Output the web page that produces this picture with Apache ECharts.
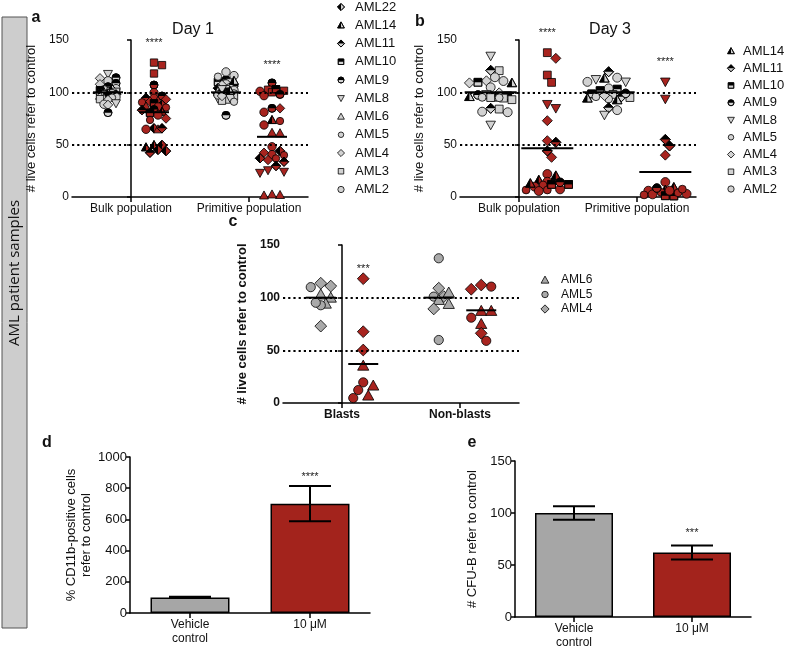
<!DOCTYPE html>
<html><head><meta charset="utf-8">
<script src="https://cdn.jsdelivr.net/npm/echarts@6/dist/echarts.min.js"></script>
<style>html,body{margin:0;padding:0;background:#fff}#c{width:785px;height:650px}</style>
</head><body><div id="c"></div>
<script>
// ================= DATA =================
const popCategories = ['Bulk population', 'Primitive population'];
const cellCategories = ['Blasts', 'Non-blasts'];
const barCategories = ['Vehicle\ncontrol', '10 \u03bcM'];
const legendDay1 = ['AML22','AML14','AML11','AML10','AML9','AML8','AML6','AML5','AML4','AML3','AML2'];
const legendDay3 = ['AML14','AML11','AML10','AML9','AML8','AML5','AML4','AML3','AML2'];
const legendC = ['AML6','AML5','AML4'];
const yTicks150 = [0, 50, 100, 150];
const yTicks1000 = [0, 200, 400, 600, 800, 1000];
const refLevels = [100, 50];

// Day 1 (panel a): [sample, % live cells]
const day1BulkControl = [['AML8',117.5],['AML9',114],['AML4',113.4],['AML2',111],['AML9',108.6],['AML4',107.7],['AML9',105.4],['AML2',103.5],['AML5',103],['AML22',102.5],['AML10',102],['AML6',101],['AML3',100.5],['AML14',100],['AML5',99.5],['AML9',99],['AML22',98.5],['AML11',98],['AML2',97.8],['AML3',97.4],['AML6',96.8],['AML10',96],['AML2',95.5],['AML5',95],['AML6',94.3],['AML3',93.5],['AML4',92.7],['AML8',89.5],['AML2',88.6],['AML4',88],['AML9',80.6]];
const day1BulkTreated = [['AML3',128.4],['AML3',126],['AML3',118],['AML9',107],['AML2',99.7],['AML9',96.5],['AML11',94.5],['AML2',94.3],['AML4',93.3],['AML6',92],['AML4',91],['AML5',90.5],['AML10',89.5],['AML22',88],['AML2',86],['AML6',86.5],['AML5',85.5],['AML9',83.5],['AML11',83],['AML14',81.5],['AML10',80.5],['AML2',78.3],['AML4',75],['AML5',73.6],['AML22',65.6],['AML2',64.7],['AML6',64.7],['AML11',65.6],['AML14',49.7],['AML22',49.7],['AML14',47.5],['AML22',45],['AML11',42.3],['AML22',43.9]];
const day1PrimControl = [['AML9',112],['AML2',119.5],['AML10',110],['AML5',115],['AML3',109.5],['AML2',108],['AML4',107],['AML9',106],['AML5',105],['AML22',104],['AML3',103],['AML2',102],['AML6',101],['AML10',100.5],['AML9',100],['AML5',99],['AML11',98],['AML4',97],['AML3',96],['AML2',95],['AML8',94],['AML6',93],['AML3',92],['AML5',91],['AML2',97.5],['AML14',101.5],['AML8',103],['AML4',96.5],['AML9',78],['AML2',116],['AML14',111]];
const day1PrimTreated = [['AML9',109],['AML3',101.5],['AML3',102.5],['AML3',100],['AML2',101],['AML10',103],['AML2',96.8],['AML9',84.7],['AML4',84.7],['AML2',81],['AML14',73.6],['AML2',68.8],['AML5',72.6],['AML6',61.4],['AML6',61],['AML2',48],['AML22',44],['AML5',40],['AML4',42.3],['AML2',40.5],['AML22',37],['AML4',35.3],['AML5',36.9],['AML11',33.7],['AML11',29.6],['AML8',24],['AML8',23],['AML8',25.5],['AML6',2],['AML6',1.5],['AML6',2.5],['AML9',98]];
const day1Medians = [[100, 81], [100, 57.5]];   // per category: [control, treated]
const day1Stars = [['****', 147], ['****', 126]];

// Day 3 (panel b)
const day3BulkControl = [['AML8',134.7],['AML11',121],['AML3',120.7],['AML2',114.4],['AML4',111],['AML2',110.8],['AML10',109.6],['AML14',109],['AML4',109],['AML2',104.8],['AML4',99.5],['AML9',97.5],['AML8',98],['AML10',96.5],['AML14',95.8],['AML10',95.5],['AML3',95],['AML5',95.2],['AML3',94.5],['AML5',94.8],['AML3',93],['AML11',84.7],['AML3',84],['AML2',81.5],['AML2',81],['AML8',68.8]];
const day3BulkTreated = [['AML3',137.9],['AML4',132.5],['AML3',116.5],['AML3',109.5],['AML8',88.6],['AML8',84.7],['AML4',72.9],['AML4',53.8],['AML11',52.2],['AML11',44],['AML4',37.9],['AML2',22],['AML14',20.4],['AML14',16.2],['AML2',14.6],['AML10',12],['AML5',11.5],['AML2',9.9],['AML5',6.7],['AML2',5.7],['AML5',6.7],['AML2',7.3],['AML10',12],['AML14',13],['AML9',14]];
const day3PrimControl = [['AML11',119.7],['AML8',112.4],['AML2',114],['AML14',113.4],['AML8',110],['AML2',110],['AML10',103],['AML2',103.8],['AML10',101.6],['AML3',98],['AML10',98.5],['AML3',95],['AML11',95.8],['AML5',93.6],['AML14',92.7],['AML14',94.3],['AML5',95.8],['AML9',99],['AML4',97],['AML11',85.3],['AML2',83],['AML8',78.3]];
const day3PrimTreated = [['AML8',110],['AML8',93.6],['AML11',55],['AML11',48.7],['AML4',40],['AML2',14.3],['AML14',9.3],['AML14',6.8],['AML2',6],['AML5',4.5],['AML2',3],['AML5',2],['AML10',1],['AML10',1.2],['AML2',2.5],['AML5',4],['AML2',6],['AML5',7.5],['AML9',8.5]];
const day3Medians = [[100, 46.5], [100, 24]];
const day3Stars = [['****', 157], ['****', 129]];

// Panel c
const blastsControl = [['AML4',111],['AML4',113.7],['AML5',110],['AML6',100],['AML6',103],['AML6',94.3],['AML5',92.8],['AML5',95.2],['AML4',73]];
const blastsTreated = [['AML4',118],['AML4',67.7],['AML4',50.3],['AML6',35.4],['AML5',19.6],['AML5',12.3],['AML6',16.5],['AML5',4.7],['AML6',7]];
const nonBlastsControl = [['AML5',137.4],['AML4',109],['AML5',101],['AML4',101],['AML6',104.8],['AML6',97.8],['AML6',94],['AML4',89.3],['AML5',59.8]];
const nonBlastsTreated = [['AML5',110.5],['AML4',108],['AML4',112],['AML6',87.4],['AML5',81],['AML6',87.4],['AML6',75],['AML4',66.2],['AML5',59]];
const cellMedians = [[100, 37], [100, 88]];
const cellStars = [['***', 127], ['', 0]];

// Panel d, e
const cd11bMeans = [100, 701];
const cd11bSem = [4, 113];
const cd11bStars = [['', 0], ['****', 870]];
const cfuMeans = [100, 62];
const cfuSem = [6.4, 6.8];
const cfuStars = [['', 0], ['***', 80.5]];

// ================= STYLE / HELPERS =================
const FONT = '"Liberation Sans", Arial, Helvetica, sans-serif';
const GRAY_LIGHT = '#d2d2d2', GRAY_MID = '#a9a9a9', RED = '#a8241f';
const BAR_GRAY = '#a6a6a6', BAR_RED = '#a3231c';
const SHAPES = {
  AML22:['diamond','left'], AML14:['tri','left'], AML11:['diamond','top'], AML10:['square','top'],
  AML9:['circle','top'], AML8:['dtri',null], AML6:['tri',null], AML5:['circle',null,0.92],
  AML4:['diamond',null], AML3:['square',null], AML2:['circle',null,1.05]
};
function shapeEls(sample, cx, cy, r, fill, lw) {
  const spec = SHAPES[sample], kind = spec[0], half = spec[1];
  lw = lw || 0.8;
  let base, h = null;
  if (kind === 'circle') {
    const rr = r * (spec[2] || 1);
    base = {type:'circle', shape:{cx, cy, r:rr}};
    if (half) h = {type:'sector', shape:{cx, cy, r0:0, r:rr, startAngle:Math.PI, endAngle:2*Math.PI, clockwise:true}};
  } else if (kind === 'square') {
    const s = r * 0.92;
    base = {type:'rect', shape:{x:cx-s, y:cy-s, width:2*s, height:2*s}};
    if (half) h = {type:'rect', shape:{x:cx-s, y:cy-s, width:2*s, height:s}};
  } else if (kind === 'diamond') {
    const s = r * 1.18;
    base = {type:'polygon', shape:{points:[[cx,cy-s],[cx+s,cy],[cx,cy+s],[cx-s,cy]]}};
    if (half === 'top') h = {type:'polygon', shape:{points:[[cx,cy-s],[cx+s,cy],[cx-s,cy]]}};
    if (half === 'left') h = {type:'polygon', shape:{points:[[cx,cy-s],[cx,cy+s],[cx-s,cy]]}};
  } else if (kind === 'tri') {
    const s = r * 1.12;
    base = {type:'polygon', shape:{points:[[cx,cy-s],[cx+s,cy+s*0.8],[cx-s,cy+s*0.8]]}};
    if (half) h = {type:'polygon', shape:{points:[[cx,cy-s],[cx,cy+s*0.8],[cx-s,cy+s*0.8]]}};
  } else {
    const s = r * 1.12;
    base = {type:'polygon', shape:{points:[[cx-s,cy-s*0.8],[cx+s,cy-s*0.8],[cx,cy+s]]}};
  }
  const out = [];
  const b1 = JSON.parse(JSON.stringify(base));
  b1.style = {fill, stroke:'#000', lineWidth:lw};
  out.push(b1);
  if (h) {
    h.style = {fill:'#000', stroke:null};
    out.push(h);
    const b2 = JSON.parse(JSON.stringify(base));
    b2.style = {fill:'none', stroke:'#000', lineWidth:lw};
    out.push(b2);
  }
  return out;
}
// capped beeswarm in pixel space (layout only)
function swarm(values, toY, diam, cap) {
  const order = values.map((v, i) => i).sort((a, b) => values[b] - values[a]);
  const placed = [], out = new Array(values.length).fill(0);
  const step = diam * 0.5, thr = diam * 0.9;
  const cands = [0];
  for (let k = 1; k * step <= cap + 0.01; k++) { cands.push(k * step); cands.push(-k * step); }
  order.forEach((i, n) => {
    const y = toY(values[i]);
    let best = null, bestD = -1;
    for (const off of cands) {
      let d = Infinity;
      placed.forEach(p => { d = Math.min(d, Math.hypot(p.x - off, p.y - y)); });
      if (d >= thr) { best = off; bestD = d; break; }
      if (d > bestD + 0.5) { bestD = d; best = off; }
    }
    out[i] = best; placed.push({x:best, y});
  });
  return out;
}
function scatterSeries(xIdx, yIdx, center, points, fill, diam, cap) {
  let offs = null;
  return {
    type:'custom', xAxisIndex:xIdx, yAxisIndex:yIdx, clip:false, silent:true,
    data: points.map(p => [center, p[1]]), encode:{x:0, y:1},
    renderItem(params, api) {
      if (!offs) offs = swarm(points.map(p => p[1]), v => api.coord([center, v])[1], diam, cap);
      const c = api.coord([api.value(0), api.value(1)]);
      return {type:'group', children: shapeEls(points[params.dataIndex][0], c[0] + offs[params.dataIndex], c[1], diam / 2, fill)};
    }
  };
}
function medianSeries(xIdx, yIdx, medians, off, halfW) {
  const data = [];
  medians.forEach((m, i) => { data.push([i - off, m[0]]); data.push([i + off, m[1]]); });
  return {
    type:'custom', xAxisIndex:xIdx, yAxisIndex:yIdx, silent:true, data, encode:{x:0, y:1}, z:5,
    renderItem(params, api) {
      const c = api.coord([api.value(0), api.value(1)]);
      return {type:'line', shape:{x1:c[0]-halfW, y1:c[1], x2:c[0]+halfW, y2:c[1]}, style:{stroke:'#000', lineWidth:2}};
    }
  };
}
function starSeries(xIdx, yIdx, stars, off) {
  return {
    type:'custom', xAxisIndex:xIdx, yAxisIndex:yIdx, silent:true, clip:false,
    data: stars.map((s, i) => [i + off, s[1]]), encode:{x:0, y:1},
    renderItem(params, api) {
      const c = api.coord([api.value(0), api.value(1)]);
      return {type:'text', style:{text: stars[params.dataIndex][0], x:c[0], y:c[1], align:'center', verticalAlign:'middle', font:'11px ' + FONT, fill:'#222'}};
    }
  };
}
function refLineSeries(xIdx, yIdx) {
  return {
    type:'line', xAxisIndex:xIdx, yAxisIndex:yIdx, data:[], silent:true,
    markLine:{silent:true, symbol:'none', label:{show:false}, animation:false,
      lineStyle:{type:[2.2, 3], color:'#000', width:2},
      data: refLevels.map(v => ({yAxis:v}))}
  };
}
function errSeries(xIdx, yIdx, means, sem, capHalf) {
  return {
    type:'custom', xAxisIndex:xIdx, yAxisIndex:yIdx, silent:true, z:5,
    data: means.map((m, i) => [i, m, m - sem[i], m + sem[i]]), encode:{x:0, y:[2,3]},
    renderItem(params, api) {
      const lo = api.coord([api.value(0), api.value(2)]);
      const hi = api.coord([api.value(0), api.value(3)]);
      const st = {stroke:'#000', lineWidth:2};
      return {type:'group', children:[
        {type:'line', shape:{x1:lo[0], y1:lo[1], x2:hi[0], y2:hi[1]}, style:st},
        {type:'line', shape:{x1:lo[0]-capHalf, y1:lo[1], x2:lo[0]+capHalf, y2:lo[1]}, style:st},
        {type:'line', shape:{x1:hi[0]-capHalf, y1:hi[1], x2:hi[0]+capHalf, y2:hi[1]}, style:st}
      ]};
    }
  };
}
function yAxis(gridIndex, ticks, name, nameGap, bold, fs) {
  const w = bold ? 'bold' : 'normal';
  return {type:'value', gridIndex, min:ticks[0], max:ticks[ticks.length-1], interval:ticks[1]-ticks[0],
    name, nameLocation:'middle', nameGap, nameRotate:90,
    nameTextStyle:{fontSize:13, fontFamily:FONT, color:'#111', fontWeight:w, lineHeight:15},
    axisLine:{show:true, lineStyle:{color:'#000', width:1.5}},
    axisTick:{show:true, length:4, lineStyle:{color:'#000', width:1.5}},
    axisLabel:{fontSize:fs, fontFamily:FONT, color:'#111', fontWeight:w, margin:3, formatter: v => String(v)},
    splitLine:{show:false}};
}
function xCat(gridIndex, data, bold, fs) {
  return {type:'category', gridIndex, data, boundaryGap:true,
    axisLine:{show:true, lineStyle:{color:'#000', width:1.5}},
    axisTick:{show:true, alignWithLabel:true, length:5, lineStyle:{color:'#000', width:1.5}},
    axisLabel:{interval:0, fontSize:fs, fontFamily:FONT, color:'#111', fontWeight:bold?'bold':'normal', margin:5, lineHeight:14},
    splitLine:{show:false}};
}
function xHidden(gridIndex) {
  return {type:'value', gridIndex, min:-0.5, max:1.5, show:false, splitLine:{show:false}};
}
function legendEls(names, sx, tx, y0, dy, fill, r, fs) {
  const els = [];
  names.forEach((n, i) => {
    const y = y0 + i * dy;
    shapeEls(n, sx, y, r, fill, 0.8).forEach(e => els.push(e));
    els.push({type:'text', x:tx, y, style:{text:n, font:fs + 'px ' + FONT, fill:'#111', align:'left', verticalAlign:'middle'}});
  });
  return els;
}

// ================= CHART =================
const chart = echarts.init(document.getElementById('c'), null, {renderer:'canvas'});
const OFF_A = 0.195, OFF_B = 0.24, OFF_C = 0.18;
const option = {
  animation:false,
  backgroundColor:'#fff',
  grid:[
    {left:72, top:40, width:236, height:157, outerBoundsMode:'none'},
    {left:460, top:40, width:236, height:157, outerBoundsMode:'none'},
    {left:283, top:245, width:236, height:158, outerBoundsMode:'none'},
    {left:130, top:457, width:240, height:156, outerBoundsMode:'none'},
    {left:515, top:461, width:236, height:156, outerBoundsMode:'none'}
  ],
  xAxis:[
    xCat(0, popCategories, false, 12), xHidden(0),
    xCat(1, popCategories, false, 12), xHidden(1),
    xCat(2, cellCategories, true, 12), xHidden(2),
    xCat(3, barCategories, false, 12),
    xCat(4, barCategories, false, 12)
  ],
  yAxis:[
    yAxis(0, yTicks150, '# live cells refer to control', 33, false, 12),
    yAxis(1, yTicks150, '# live cells refer to control', 33, false, 12),
    yAxis(2, yTicks150, '# live cells refer to control', 33, true, 12),
    yAxis(3, yTicks1000, '% CD11b-positive cells\nrefer to control', 35, false, 13),
    yAxis(4, yTicks150, '# CFU-B refer to control', 35, false, 13)
  ],
  series:[
    refLineSeries(1, 0), refLineSeries(3, 1), refLineSeries(5, 2),
    // panel a
    scatterSeries(1, 0, 0 - OFF_A, day1BulkControl, GRAY_LIGHT, 8, 11),
    scatterSeries(1, 0, 0 + OFF_A, day1BulkTreated, RED, 8, 12),
    scatterSeries(1, 0, 1 - OFF_A, day1PrimControl, GRAY_LIGHT, 8, 11),
    scatterSeries(1, 0, 1 + OFF_A, day1PrimTreated, RED, 8, 12),
    medianSeries(1, 0, day1Medians, OFF_A, 15),
    starSeries(1, 0, day1Stars, OFF_A),
    // panel b
    scatterSeries(3, 1, 0 - OFF_B, day3BulkControl, GRAY_LIGHT, 8.5, 22),
    scatterSeries(3, 1, 0 + OFF_B, day3BulkTreated, RED, 8.5, 22),
    scatterSeries(3, 1, 1 - OFF_B, day3PrimControl, GRAY_LIGHT, 8.5, 22),
    scatterSeries(3, 1, 1 + OFF_B, day3PrimTreated, RED, 8.5, 22),
    medianSeries(3, 1, day3Medians, OFF_B, 26),
    starSeries(3, 1, day3Stars, OFF_B),
    // panel c
    scatterSeries(5, 2, 0 - OFF_C, blastsControl, GRAY_MID, 10, 12),
    scatterSeries(5, 2, 0 + OFF_C, blastsTreated, RED, 10, 12),
    scatterSeries(5, 2, 1 - OFF_C, nonBlastsControl, GRAY_MID, 10, 12),
    scatterSeries(5, 2, 1 + OFF_C, nonBlastsTreated, RED, 10, 12),
    medianSeries(5, 2, cellMedians, OFF_C, 15),
    starSeries(5, 2, cellStars, OFF_C),
    // panel d
    {type:'bar', xAxisIndex:6, yAxisIndex:3, barWidth:79, silent:true,
      data: cd11bMeans.map((v, i) => ({value:v, itemStyle:{color: i ? BAR_RED : BAR_GRAY, borderColor:'#000', borderWidth:1.5}}))},
    errSeries(6, 3, cd11bMeans, cd11bSem, 21),
    starSeries(6, 3, cd11bStars, 0),
    // panel e
    {type:'bar', xAxisIndex:7, yAxisIndex:4, barWidth:78, silent:true,
      data: cfuMeans.map((v, i) => ({value:v, itemStyle:{color: i ? BAR_RED : BAR_GRAY, borderColor:'#000', borderWidth:1.5}}))},
    errSeries(7, 4, cfuMeans, cfuSem, 21),
    starSeries(7, 4, cfuStars, 0)
  ],
  graphic:[
    {type:'rect', shape:{x:2, y:17, width:25, height:611}, style:{fill:'#cdcdcd', stroke:'#555', lineWidth:1}},
    {type:'text', x:15, y:273, rotation:Math.PI/2, style:{text:'AML patient samples', font:'15px "Open Sans", sans-serif', fill:'#111', align:'center', verticalAlign:'middle'}},
    {type:'text', x:36, y:18, style:{text:'a', font:'bold 16px ' + FONT, fill:'#111', align:'center', verticalAlign:'middle'}},
    {type:'text', x:420, y:22, style:{text:'b', font:'bold 16px ' + FONT, fill:'#111', align:'center', verticalAlign:'middle'}},
    {type:'text', x:233, y:222, style:{text:'c', font:'bold 16px ' + FONT, fill:'#111', align:'center', verticalAlign:'middle'}},
    {type:'text', x:47, y:443, style:{text:'d', font:'bold 16px ' + FONT, fill:'#111', align:'center', verticalAlign:'middle'}},
    {type:'text', x:472, y:443, style:{text:'e', font:'bold 16px ' + FONT, fill:'#111', align:'center', verticalAlign:'middle'}},
    {type:'text', x:193, y:30, style:{text:'Day 1', font:'16px ' + FONT, fill:'#111', align:'center', verticalAlign:'middle'}},
    {type:'text', x:610, y:30, style:{text:'Day 3', font:'16px ' + FONT, fill:'#111', align:'center', verticalAlign:'middle'}},
    {type:'group', children: legendEls(legendDay1, 341, 355, 7, 18.25, GRAY_LIGHT, 3, 13)},
    {type:'group', children: legendEls(legendDay3, 731, 743, 51, 17.25, GRAY_LIGHT, 3, 13)},
    {type:'group', children: legendEls(legendC, 545, 561, 280, 14.5, GRAY_MID, 3.5, 12)}
  ]
};
chart.setOption(option);
</script></body></html>
